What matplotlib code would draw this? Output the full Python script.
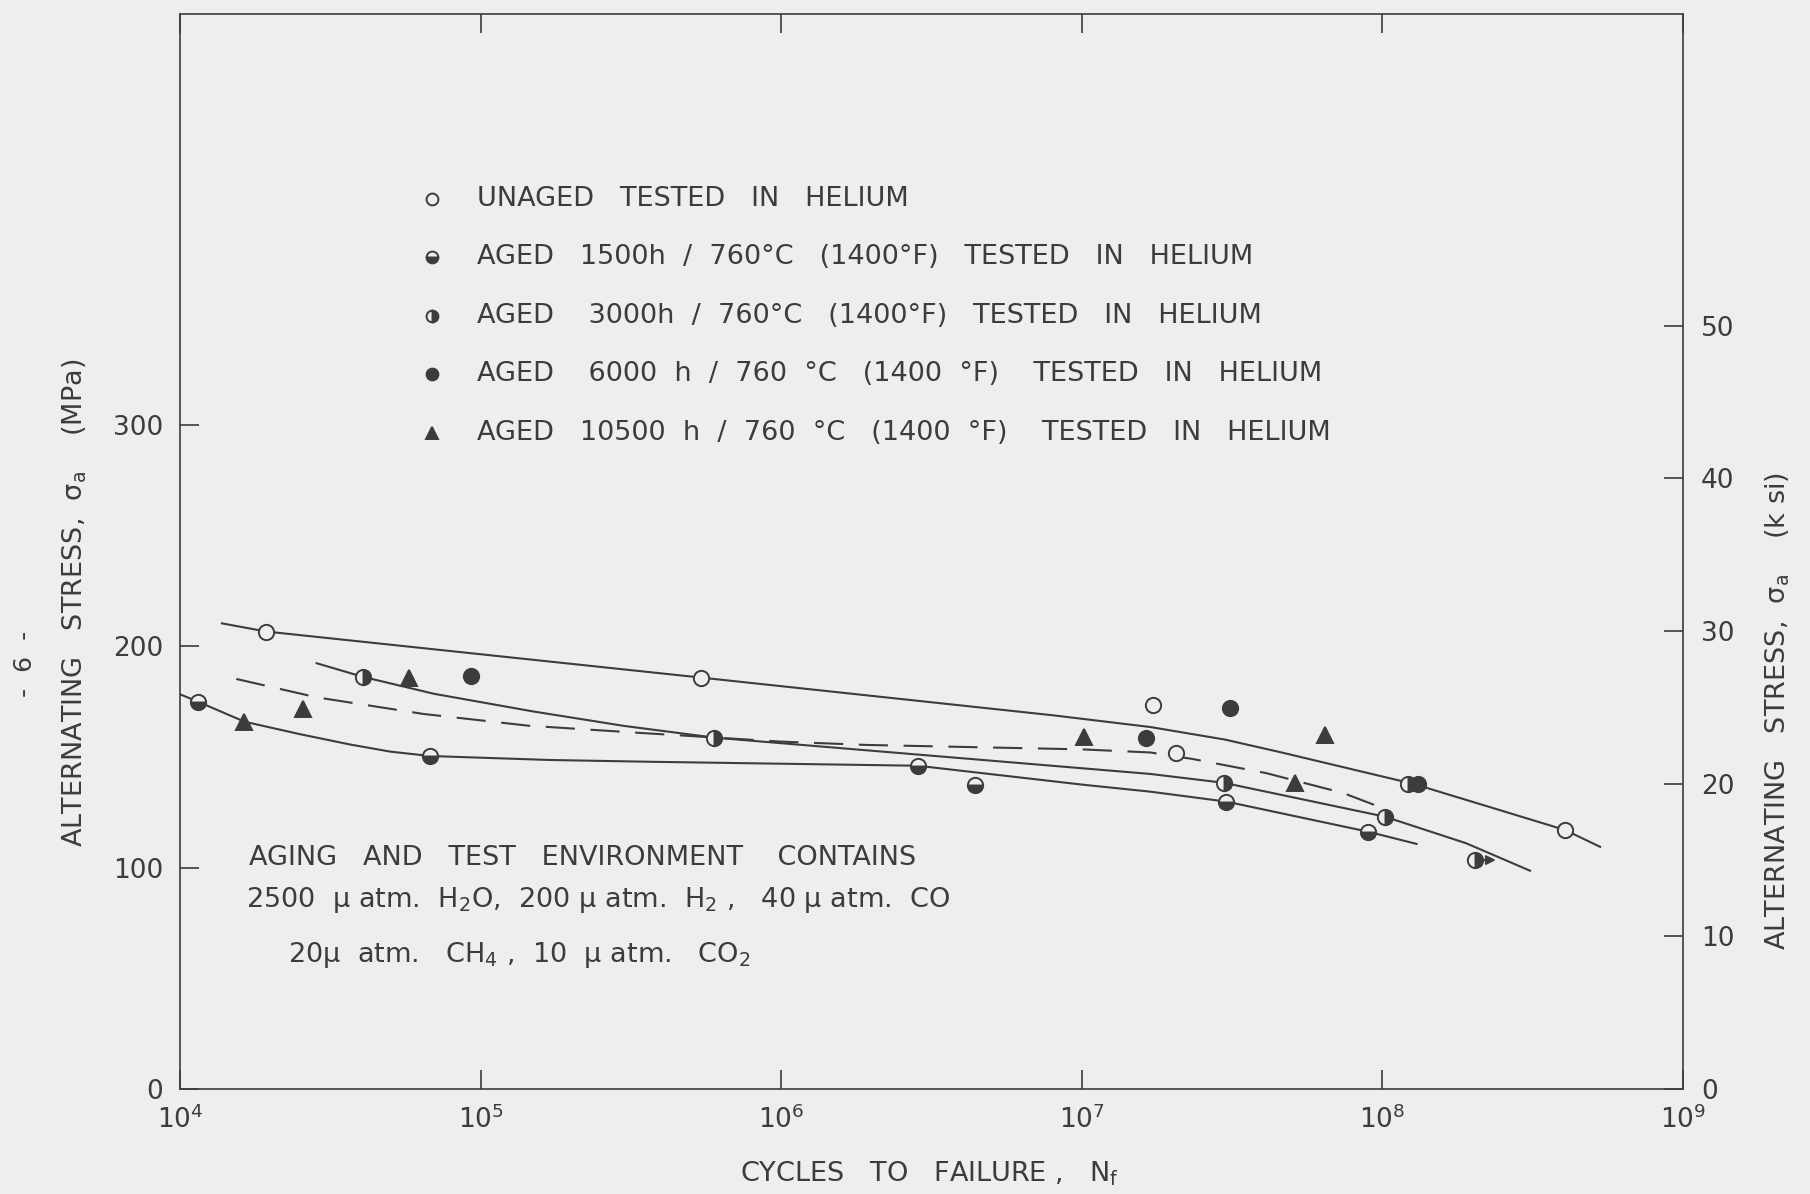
"""Fatigue curves: alternating stress vs cycles to failure, aged / unaged in helium."""
import matplotlib
matplotlib.use("Agg")
import matplotlib.pyplot as plt
import numpy as np

# ---- data (N_f in cycles, sigma_a in MPa) ----
unaged_n = [1.94e4, 5.43e5, 1.72e7, 2.06e7, 4.05e8]
unaged_s = [206.6, 185.8, 173.4, 151.9, 117.0]

aged1500_n = [1.15e4, 6.79e4, 2.85e6, 4.4e6, 3.03e7, 8.98e7]
aged1500_s = [174.9, 150.4, 146.0, 137.3, 129.8, 116.2]

aged3000_n = [4.05e4, 5.99e5, 2.97e7, 1.02e8, 1.22e8, 2.03e8]
aged3000_s = [186.2, 158.7, 138.3, 123.0, 137.8, 103.4]
aged3000_runout = [False, False, False, False, False, True]

aged6000_n = [9.33e4, 1.64e7, 3.11e7, 1.31e8]
aged6000_s = [186.5, 158.4, 172.0, 137.8]

aged10500_n = [1.64e4, 2.57e4, 5.76e4, 1.02e7, 5.14e7, 6.44e7]
aged10500_s = [165.9, 171.5, 185.5, 159.1, 138.1, 159.9]

# hand-drawn trend curves
curve_unaged_n = [1.38e4, 1.94e4, 5.43e5, 3.0e6, 8.0e6, 1.69e7, 3.0e7, 4.62e7, 1.27e8,
                  2.27e8, 4.05e8, 5.3e8]
curve_unaged_s = [210.3, 206.6, 185.8, 175.0, 168.8, 163.5, 157.8, 152.0, 137.8,
                  127.4, 117.0, 109.4]

curve_3000_n = [2.85e4, 4.05e4, 7.0e4, 1.5e5, 3.0e5, 5.99e5, 3.0e6, 1.69e7, 2.97e7,
                1.02e8, 1.9e8, 3.1e8]
curve_3000_s = [192.3, 186.2, 178.5, 170.5, 164.0, 158.7, 150.8, 142.3, 138.3,
                123.0, 111.0, 98.6]

curve_1500_n = [1.0e4, 1.15e4, 1.64e4, 2.5e4, 3.68e4, 5.0e4, 6.79e4, 1.7e5, 3.66e5,
                2.85e6, 1.0e7, 1.69e7, 3.03e7, 8.98e7, 1.3e8]
curve_1500_s = [178.3, 174.9, 165.9, 160.3, 155.6, 152.4, 150.4, 148.6, 147.8,
                146.0, 137.5, 134.3, 129.8, 116.2, 110.7]

curve_dash_n = [1.54e4, 2.85e4, 6.45e4, 1.44e5, 3.33e5, 1.0e6, 1.92e6, 1.0e7, 1.69e7,
                2.35e7, 4.1e7, 7.4e7, 9.8e7]
curve_dash_s = [185.2, 176.9, 169.4, 164.1, 160.9, 156.9, 155.4, 153.4, 152.0,
                149.0, 142.7, 133.7, 127.4]

legend_labels = [
    "UNAGED   TESTED   IN   HELIUM",
    "AGED   1500h  /  760°C   (1400°F)   TESTED   IN   HELIUM",
    "AGED    3000h  /  760°C   (1400°F)   TESTED   IN   HELIUM",
    "AGED    6000  h  /  760  °C   (1400  °F)    TESTED   IN   HELIUM",
    "AGED   10500  h  /  760  °C   (1400  °F)    TESTED   IN   HELIUM",
]
env_lines = [
    "AGING   AND   TEST   ENVIRONMENT    CONTAINS",
    r"2500  $\mu$ atm.  H$_2$O,  200 $\mu$ atm.  H$_2$ ,   40 $\mu$ atm.  CO",
    r"20$\mu$  atm.   CH$_4$ ,  10  $\mu$ atm.   CO$_2$",
]

MPA_PER_KSI = 6.895
YMAX = 485.5

BG = "#eeeeec"
INK = "#3c3c3c"

plt.rcParams["font.family"] = ["DejaVu Sans"]
plt.rcParams["mathtext.default"] = "regular"
plt.rcParams["text.color"] = INK

fig = plt.figure(figsize=(18.1, 11.94), dpi=100, facecolor=BG)
ax = fig.add_axes([0.0994, 0.0879, 0.8304, 0.9004])
ax.set_facecolor(BG)

mk = dict(ms=11, mec=INK, mew=1.4, ls="none", markerfacecoloralt=BG)
styles = [
    dict(marker="o", mfc=BG, **mk),
    dict(marker="o", mfc=INK, fillstyle="bottom", **mk),
    dict(marker="o", mfc=INK, fillstyle="right", **mk),
    dict(marker="o", mfc=INK, **mk),
    dict(marker="^", mfc=INK, **mk),
]

line_kw = dict(color=INK, lw=1.5, zorder=2)
ax.plot(curve_unaged_n, curve_unaged_s, **line_kw)
ax.plot(curve_3000_n, curve_3000_s, **line_kw)
ax.plot(curve_1500_n, curve_1500_s, **line_kw)
ax.plot(curve_dash_n, curve_dash_s, ls=(0, (14, 7.5)), **line_kw)

series = [(unaged_n, unaged_s), (aged1500_n, aged1500_s), (aged3000_n, aged3000_s),
          (aged6000_n, aged6000_s), (aged10500_n, aged10500_s)]
for (n, s), st in zip(series, styles):
    ax.plot(n, s, zorder=3, **st)

# run-out arrow
for n, s, ro in zip(aged3000_n, aged3000_s, aged3000_runout):
    if ro:
        ax.annotate("", xy=(n * 1.2, s), xytext=(n * 1.05, s),
                    arrowprops=dict(arrowstyle="-|>", color=INK, lw=1.4, mutation_scale=14))

# legend drawn in place
for i, (lab, st) in enumerate(zip(legend_labels, styles)):
    y = 0.8283 - i * 0.0545
    st = dict(st, ms=8.5)
    ax.plot([0.1677], [y], transform=ax.transAxes, clip_on=False, **st)
    ax.text(0.1976, y, lab, transform=ax.transAxes, va="center", ha="left", fontsize=19.5)

# environment note
for (x, y), t in zip([(249, 858), (246, 900), (288, 955)], env_lines):
    fig.text(x / 1810, 1 - y / 1194, t, fontsize=19.5, va="center", ha="left")

ax.set_xscale("log")
ax.set_xlim(1e4, 1e9)
ax.set_ylim(0, YMAX)
ax.set_xticks([1e4, 1e5, 1e6, 1e7, 1e8, 1e9])
ax.xaxis.set_minor_locator(matplotlib.ticker.NullLocator())
ax.set_yticks([0, 100, 200, 300])
ax.tick_params(axis="both", direction="in", length=14, width=1.2, color=INK,
               labelsize=19, labelcolor=INK, top=True)
ax.tick_params(axis="x", pad=12)
ax.tick_params(axis="y", pad=12)
for sp in ax.spines.values():
    sp.set_color(INK)
    sp.set_linewidth(1.2)

ax2 = ax.twinx()
ax2.set_ylim(0, YMAX / MPA_PER_KSI)
ax2.set_yticks([0, 10, 20, 30, 40, 50])
ax2.tick_params(axis="y", direction="in", length=14, width=1.2, color=INK,
                labelsize=19, labelcolor=INK, pad=13)
for sp in ax2.spines.values():
    sp.set_visible(False)

fig.text(929 / 1810, 1 - 1174 / 1194, r"CYCLES   TO   FAILURE ,   N$_f$", fontsize=19.5,
         ha="center", va="center")
fig.text(75 / 1810, 1 - 603 / 1194, r"ALTERNATING   STRESS,  $\sigma_a$    (MPa)",
         fontsize=19.5, ha="center", va="center", rotation=90)
fig.text(1778 / 1810, 1 - 711 / 1194, r"ALTERNATING   STRESS,  $\sigma_a$    (k si)",
         fontsize=19.5, ha="center", va="center", rotation=90)
fig.text(25 / 1810, 1 - 664 / 1194, "-  6  -", fontsize=18, ha="center", va="center",
         rotation=90)

fig.savefig("out.png", dpi=100, facecolor=BG)
